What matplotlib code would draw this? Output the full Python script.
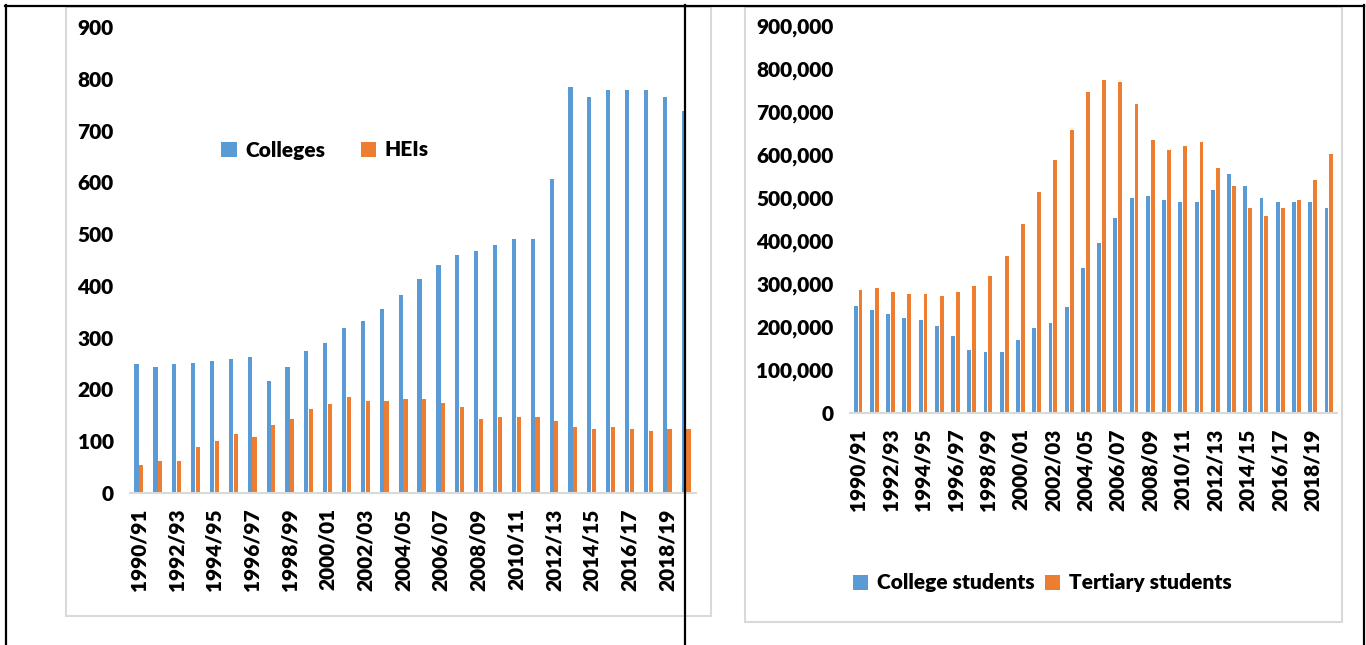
import numpy as np
import matplotlib.pyplot as plt
from matplotlib.patches import Rectangle
from matplotlib.lines import Line2D
from matplotlib.ticker import FuncFormatter

plt.rcParams.update({
    'font.family': ['Lato', 'DejaVu Sans'],
    'font.weight': 'heavy',
    'font.size': 15,
})

years = ["1990/91", "1991/92", "1992/93", "1993/94", "1994/95", "1995/96",
         "1996/97", "1997/98", "1998/99", "1999/00", "2000/01", "2001/02",
         "2002/03", "2003/04", "2004/05", "2005/06", "2006/07", "2007/08",
         "2008/09", "2009/10", "2010/11", "2011/12", "2012/13", "2013/14",
         "2014/15", "2015/16", "2016/17", "2017/18", "2018/19", "2019/20"]

colleges = [249, 244, 249, 252, 255, 259, 263, 217, 244, 275,
            290, 318, 333, 356, 383, 414, 441, 460, 468, 479,
            491, 491, 607, 785, 765, 778, 778, 778, 765, 738]
heis = [55, 62, 62, 89, 101, 113, 109, 132, 143, 163,
        171, 186, 178, 178, 182, 182, 174, 167, 143, 147,
        147, 147, 140, 128, 124, 128, 124, 120, 124, 124]

college_students = [249000, 240000, 230000, 220000, 216000, 202000, 178000, 146000,
                    141000, 141000, 169000, 197000, 210000, 247000, 337000, 396000,
                    453000, 499000, 504000, 495000, 490000, 490000, 518000, 555000,
                    527000, 499000, 490000, 490000, 490000, 476000]
tertiary_students = [285000, 290000, 281000, 276000, 276000, 271000, 281000, 295000,
                     318000, 364000, 439000, 513000, 588000, 657000, 746000, 774000,
                     769000, 718000, 634000, 611000, 620000, 630000, 569000, 527000,
                     476000, 457000, 476000, 495000, 541000, 602000]

BLUE = "#5B9BD5"
ORANGE = "#ED7D31"
FRAME = "#D9D9D9"

W, H = 1366, 645
fig = plt.figure(figsize=(W / 100, H / 100), dpi=100)


def px_rect(x0, y0, x1, y1):
    # pixel box (top-left origin) -> figure fraction [left, bottom, width, height]
    return [x0 / W, 1 - y1 / H, (x1 - x0) / W, (y1 - y0) / H]


# light grey chart frames
for x0, y0, x1, y1 in [(66, 7, 711, 616), (745, 7, 1342, 622)]:
    l, b, w, h = px_rect(x0, y0, x1, y1)
    fig.patches.append(Rectangle((l, b), w, h, transform=fig.transFigure,
                                 facecolor="white", edgecolor=FRAME, lw=1.5, zorder=-5))


def style_axis(ax, ymax, step):
    for s in ["top", "right", "left"]:
        ax.spines[s].set_visible(False)
    ax.spines["bottom"].set_color(FRAME)
    ax.spines["bottom"].set_linewidth(1.5)
    ax.set_xlim(-0.5, len(years) - 0.5)
    ax.set_ylim(0, ymax)
    ax.set_yticks(np.arange(0, ymax + 1, step))
    ax.set_xticks(np.arange(0, len(years), 2))
    ax.set_xticklabels(years[::2], rotation=90)
    ax.tick_params(axis="both", length=0)
    ax.tick_params(axis="y", pad=11.5)
    ax.tick_params(axis="x", pad=11)
    ax.set_facecolor("none")


x = np.arange(len(years))

# Left chart: number of institutions
ax1 = fig.add_axes(px_rect(129.5, 27, 695.5, 493))
ax1.bar(x - 0.125, colleges, width=0.22, color=BLUE, label="Colleges")
ax1.bar(x + 0.125, heis, width=0.22, color=ORANGE, label="HEIs")
style_axis(ax1, 900, 100)
ax1.legend(loc="center", bbox_to_anchor=(325 / W, 1 - 150 / H),
           bbox_transform=fig.transFigure, ncol=2, frameon=False,
           handlelength=0.75, handleheight=0.75, handletextpad=0.4,
           columnspacing=1.7)

# Right chart: enrolments
ax2 = fig.add_axes(px_rect(850, 26, 1337, 413))
ax2.bar(x - 0.15, college_students, width=0.24, color=BLUE, label="College students")
ax2.bar(x + 0.15, tertiary_students, width=0.24, color=ORANGE, label="Tertiary students")
style_axis(ax2, 900000, 100000)
ax2.yaxis.set_major_formatter(FuncFormatter(lambda v, p: f"{int(v):,}"))
ax2.tick_params(axis="y", pad=12)
ax2.legend(loc="center", bbox_to_anchor=(1042 / W, 1 - 583 / H),
           bbox_transform=fig.transFigure, ncol=2, frameon=False,
           handlelength=0.75, handleheight=0.75, handletextpad=0.4,
           columnspacing=0.5)

# black table borders on top of everything
for (xa, ya), (xb, yb) in [((5, 5.5), (1364, 5.5)), ((5.5, 5), (5.5, H)),
                           ((685, 5), (685, H)), ((1364, 5), (1364, H))]:
    fig.lines.append(Line2D([xa / W, xb / W], [1 - ya / H, 1 - yb / H],
                            transform=fig.transFigure, color="black", lw=1.6, zorder=10))

fig.savefig("out.png", dpi=100, facecolor="white")
